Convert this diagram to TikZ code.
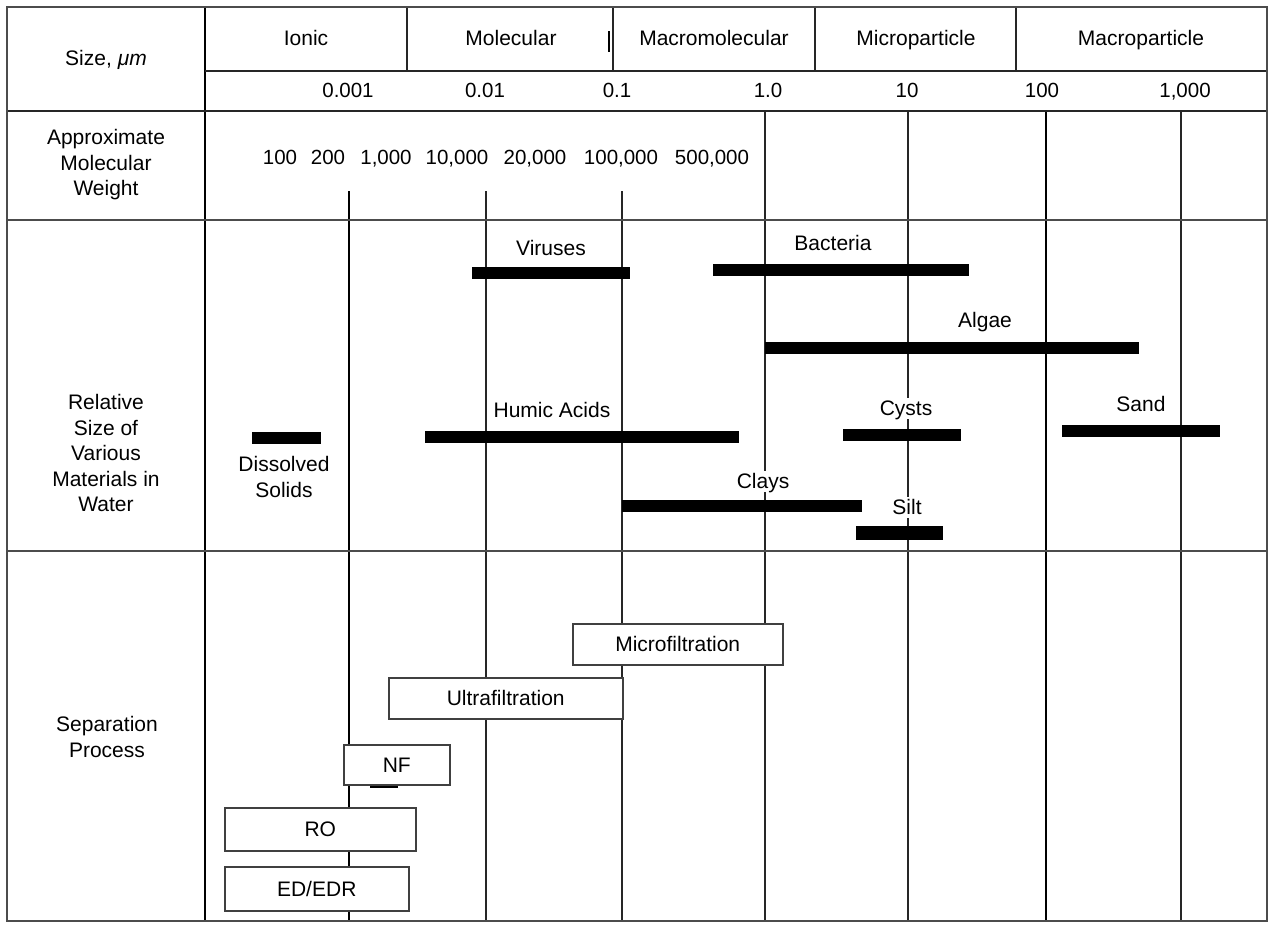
\documentclass[tikz,border=0pt]{standalone}
\usepackage{fontspec}
\setmainfont{Liberation Sans}
\begin{document}
\begin{tikzpicture}[x=1pt,y=-1pt,
  every node/.style={font=\fontsize{21}{25.5}\selectfont},
  sl/.style={text height=15pt, text depth=0pt},
  framel/.style={draw=black!70, line width=2.4pt},
  rowl/.style={draw=black!70, line width=2.8pt},
  cell/.style={draw=black!85, line width=1.4pt},
  gridl/.style={draw=black!85, line width=1.5pt},
  gridk/.style={draw=black, line width=2.4pt},
  bar/.style={fill=black, inner sep=0pt, minimum height=12.5pt, anchor=west},
  blabel/.style={sl, fill=white, inner xsep=1.5pt, inner ysep=3pt},
  proc/.style={sl, draw=black!75, line width=1.5pt, fill=white, inner sep=0pt, anchor=north west},
  num/.style={font=\fontsize{20.5}{24}\selectfont, text height=14.7pt, text depth=0pt},
  hdr/.style={align=center},
]
\useasboundingbox (0,0) rectangle (1269,926);
\fill[white] (0,0) rectangle (1269,926);

% ---- vertical scale lines ----
\draw[gridk] (349,191) -- (349,921);
\draw[gridl, line width=1.3pt] (486,191) -- (486,921);
\draw[gridl] (622,191) -- (622,921);
\draw[gridl] (765,111) -- (765,921);
\draw[gridl] (908,111) -- (908,921);
\draw[gridk, line width=2.8pt] (1046,111) -- (1046,921);
\draw[gridl] (1181,111) -- (1181,921);

% ---- table structure ----
\draw[gridk, line width=2.6pt] (205,7) -- (205,921);
\draw[cell] (205,71) -- (1267,71);
\draw[cell] (7,111) -- (1267,111);
\draw[rowl] (7,220) -- (1267,220);
\draw[rowl] (7,551) -- (1267,551);
\draw[cell] (407,7) -- (407,71);
\draw[cell] (613,7) -- (613,71);
\draw[line width=2.2pt] (609,31) -- (609,52);
\draw[cell] (815,7) -- (815,71);
\draw[cell] (1016,7) -- (1016,71);
\draw[framel] (7,7) rectangle (1267,921);

% ---- header texts ----
\node[sl] (size) at (106,58) {Size, \textit{μm}};
\node[sl] (ionic) at (306,38) {Ionic};
\node[sl] (molec) at (511,38) {Molecular};
\node[sl] (macromol) at (714,38) {Macromolecular};
\node[sl] (micropart) at (916,38) {Microparticle};
\node[sl] (macropart) at (1141,38) {Macroparticle};

\node[num] (n1) at (348,90) {0.001};
\node[num] (n2) at (485,90) {0.01};
\node[num] (n3) at (617,90) {0.1};
\node[num] (n4) at (768,90) {1.0};
\node[num] (n5) at (907,90) {10};
\node[num] (n6) at (1042,90) {100};
\node[num] (n7) at (1185,90) {1,000};

\node[hdr] (mwlab) at (106,165) {Approximate\\Molecular\\Weight};
\node[num] (mw1) at (280,157) {100};
\node[num] (mw2) at (328,157) {200};
\node[num] (mw3) at (386,157) {1,000};
\node[num] (mw4) at (457,157) {10,000};
\node[num] (mw5) at (535,157) {20,000};
\node[num] (mw6) at (621,157) {100,000};
\node[num] (mw7) at (712,157) {500,000};

\node[hdr] (rellab) at (106,453) {Relative\\Size of\\Various\\Materials in\\Water};
\node[hdr] (seplab) at (107,737) {Separation\\Process};

% ---- materials ----
\node[bar, minimum width=158pt] (virbar) at (472,273) {};
\node[blabel] (virlab) at (551,248) {Viruses};
\node[bar, minimum width=256pt] (bacbar) at (713,270) {};
\node[blabel] (baclab) at (833,243) {Bacteria};
\node[bar, minimum width=374pt] (algbar) at (765,348) {};
\node[blabel] (alglab) at (985,320) {Algae};
\node[bar, minimum width=314pt] (humbar) at (425,437) {};
\node[blabel] (humlab) at (552,410) {Humic Acids};
\node[bar, minimum width=118pt] (cysbar) at (843,435) {};
\node[blabel] (cyslab) at (906,408) {Cysts};
\node[bar, minimum width=158pt] (sanbar) at (1062,431) {};
\node[blabel] (sanlab) at (1141,404) {Sand};
\node[bar, minimum width=69pt] (disbar) at (252,438) {};
\node[hdr, fill=white, inner sep=1.5pt] (dislab) at (284,477) {Dissolved\\Solids};
\node[bar, minimum width=240pt] (claybar) at (622,506) {};
\node[blabel] (claylab) at (763,481) {Clays};
\node[bar, minimum width=87pt, minimum height=13.5pt] (siltbar) at (856,533) {};
\node[blabel] (siltlab) at (907,507) {Silt};

% ---- separation processes ----
\node[proc, minimum width=210pt, minimum height=41pt] (mf) at (572,623) {Microfiltration};
\node[proc, minimum width=234pt, minimum height=41pt] (uf) at (388,677) {Ultrafiltration};
\node[proc, minimum width=106pt, minimum height=40pt] (nf) at (343,744) {NF};
\draw[line width=2pt] (370,787) -- (398,787);
\node[proc, minimum width=191pt, minimum height=43pt] (ro) at (224,807) {RO};
\node[proc, minimum width=184pt, minimum height=44pt] (ed) at (224,866) {ED/EDR};
\end{tikzpicture}
\end{document}
